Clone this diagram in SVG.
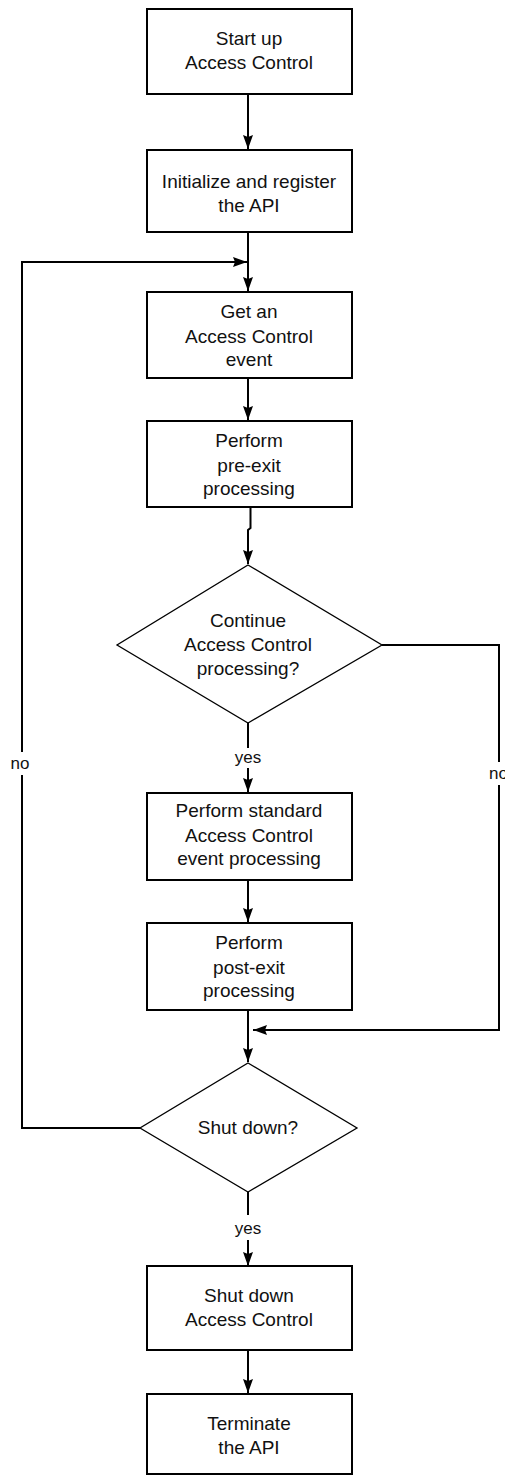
<svg xmlns="http://www.w3.org/2000/svg" width="505" height="1476" viewBox="0 0 505 1476">
<style>
.box{fill:#fff;stroke:#000;stroke-width:2}
.dia{fill:#fff;stroke:#000;stroke-width:1.3}
.con{fill:none;stroke:#000;stroke-width:2}
text{font-family:"Liberation Sans",Arial,sans-serif;font-size:19px;fill:#111;text-anchor:middle}
.lbl{font-size:17px}
</style>
<defs>
<marker id="ah" viewBox="0 0 14 10" refX="14" refY="5" markerWidth="14" markerHeight="10" markerUnits="userSpaceOnUse" orient="auto">
<path d="M0,0 L14,5 L0,10 L2,5 Z" fill="#000"/>
</marker>
</defs>
<rect width="505" height="1476" fill="#fff"/>
<g id="connectors">
<line class="con" x1="248" y1="94" x2="248" y2="149" marker-end="url(#ah)"/>
<line class="con" x1="248" y1="232" x2="248" y2="291" marker-end="url(#ah)"/>
<line class="con" x1="248" y1="378" x2="248" y2="420" marker-end="url(#ah)"/>
<polyline class="con" points="250.5,507 250.5,528 248,530 248,564" marker-end="url(#ah)"/>
<line class="con" x1="248" y1="723" x2="248" y2="748"/>
<line class="con" x1="248" y1="768" x2="248" y2="792" marker-end="url(#ah)"/>
<line class="con" x1="248" y1="880" x2="248" y2="922" marker-end="url(#ah)"/>
<line class="con" x1="248" y1="1010" x2="248" y2="1062" marker-end="url(#ah)"/>
<polyline class="con" points="382,645 499,645 499,762"/>
<polyline class="con" points="499,785 499,1030 253,1030" marker-end="url(#ah)"/>
<polyline class="con" points="140,1128 22,1128 22,775"/>
<polyline class="con" points="22,752 22,262 247,262" marker-end="url(#ah)"/>
<line class="con" x1="248" y1="1192" x2="248" y2="1215"/>
<line class="con" x1="248" y1="1240" x2="248" y2="1266" marker-end="url(#ah)"/>
<line class="con" x1="248" y1="1350" x2="248" y2="1393" marker-end="url(#ah)"/>
<text class="lbl" x="248" y="763">yes</text>
<text class="lbl" x="248" y="1234">yes</text>
<text class="lbl" x="20" y="769">no</text>
<text class="lbl" x="489" y="779" style="text-anchor:start">no</text>
</g>
<g id="n1"><rect class="box" x="147" y="9" width="205" height="85"/>
<text x="249" y="45">Start up</text><text x="249" y="69">Access Control</text></g>
<g id="n2"><rect class="box" x="147" y="150" width="205" height="82"/>
<text x="249" y="188">Initialize and register</text><text x="249" y="212">the API</text></g>
<g id="n3"><rect class="box" x="147" y="292" width="205" height="86"/>
<text x="249" y="318">Get an</text><text x="249" y="343">Access Control</text><text x="249" y="366">event</text></g>
<g id="n4"><rect class="box" x="147" y="421" width="205" height="86"/>
<text x="249" y="447">Perform</text><text x="249" y="472">pre-exit</text><text x="249" y="495">processing</text></g>
<g id="d1"><polygon class="dia" points="248,565 382,645 248,723 117,645"/>
<text x="248" y="627">Continue</text><text x="248" y="651">Access Control</text><text x="248" y="675">processing?</text></g>
<g id="n5"><rect class="box" x="147" y="793" width="205" height="87"/>
<text x="249" y="817">Perform standard</text><text x="249" y="842">Access Control</text><text x="249" y="865">event processing</text></g>
<g id="n6"><rect class="box" x="147" y="923" width="205" height="87"/>
<text x="249" y="949">Perform</text><text x="249" y="974">post-exit</text><text x="249" y="997">processing</text></g>
<g id="d2"><polygon class="dia" points="248,1063 357,1128 248,1192 140,1128"/>
<text x="248" y="1134">Shut down?</text></g>
<g id="n7"><rect class="box" x="147" y="1266" width="205" height="84"/>
<text x="249" y="1302">Shut down</text><text x="249" y="1326">Access Control</text></g>
<g id="n8"><rect class="box" x="147" y="1394" width="205" height="80"/>
<text x="249" y="1430">Terminate</text><text x="249" y="1454">the API</text></g>
</svg>
